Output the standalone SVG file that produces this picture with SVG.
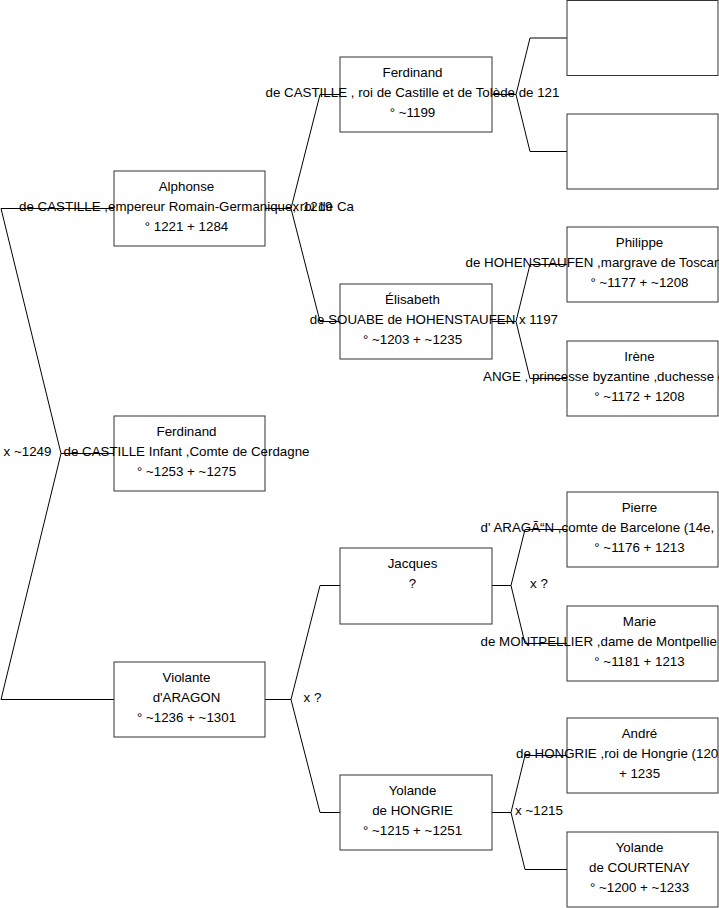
<svg xmlns="http://www.w3.org/2000/svg" width="719" height="908" viewBox="0 0 719 908">
<style>
.box{fill:#fff;stroke:#333;stroke-width:1}
.ln{fill:none;stroke:#000;stroke-width:1}
text{font-family:"Liberation Sans",Arial,sans-serif;font-size:13.33px;fill:#000}
.c1{text-anchor:middle}
.st{text-anchor:start}
</style>
<rect width="719" height="908" fill="#fff"/>
<g id="connectors">
<path class="ln" d="M114,208.5 H1 L61,453.5 L1,699.5 H114 M61,453.5 H114"/>
<path class="ln" d="M265,208.5 H291 L320,94.5 H340 M291,208.5 L320,321.5 H340"/>
<path class="ln" d="M265,699.5 H291 L320,585.5 H340 M291,699.5 L320,812.5 H340"/>
<path class="ln" d="M492,94.5 H516 L530,38 H567 M516,94.5 L530,151.5 H567"/>
<path class="ln" d="M492,321.5 H516 L530,264.5 H567 M516,321.5 L530,378.5 H567"/>
<path class="ln" d="M492,585.5 H511 L525,529.5 H567 M511,585.5 L525,643.5 H567"/>
<path class="ln" d="M492,812.5 H511 L525,755.5 H567 M511,812.5 L525,869.5 H567"/>
<text class="c1" x="27.5" y="456">x ~1249</text>
<text class="c1" x="312.5" y="211">x 1219</text>
<text class="c1" x="312.5" y="702">x ?</text>
<text class="c1" x="538.5" y="324">x 1197</text>
<text class="c1" x="539" y="588">x ?</text>
<text class="c1" x="539" y="815">x ~1215</text>
</g>
<g id="alphonse">
<rect class="box" x="114" y="171" width="151" height="75"/>
<text class="c1" x="186.5" y="191">Alphonse</text>
<text class="c1" x="186.5" y="211">de CASTILLE ,empereur Romain-Germanique, roi de Ca</text>
<text class="c1" x="186.5" y="231">° 1221 + 1284</text>
</g>
<g id="ferdinand-infant">
<rect class="box" x="114" y="416" width="151" height="75"/>
<text class="c1" x="186.5" y="436">Ferdinand</text>
<text class="c1" x="186.5" y="456">de CASTILLE Infant ,Comte de Cerdagne</text>
<text class="c1" x="186.5" y="476">° ~1253 + ~1275</text>
</g>
<g id="violante">
<rect class="box" x="114" y="662" width="151" height="75"/>
<text class="c1" x="186.5" y="682">Violante</text>
<text class="c1" x="186.5" y="702">d'ARAGON</text>
<text class="c1" x="186.5" y="722">° ~1236 + ~1301</text>
</g>
<g id="ferdinand-roi">
<rect class="box" x="340" y="57" width="152" height="75"/>
<text class="c1" x="412.5" y="77">Ferdinand</text>
<text class="c1" x="412.5" y="97">de CASTILLE , roi de Castille et de Tolède de 121</text>
<text class="c1" x="412.5" y="117">° ~1199</text>
</g>
<g id="elisabeth">
<rect class="box" x="340" y="284" width="152" height="75"/>
<text class="c1" x="412.5" y="304">Élisabeth</text>
<text class="c1" x="412.5" y="324">de SOUABE de HOHENSTAUFEN</text>
<text class="c1" x="412.5" y="344">° ~1203 + ~1235</text>
</g>
<g id="jacques">
<rect class="box" x="340" y="548" width="152" height="76"/>
<text class="c1" x="412.5" y="568">Jacques</text>
<text class="c1" x="412.5" y="588">?</text>
</g>
<g id="yolande-hongrie">
<rect class="box" x="340" y="775" width="152" height="75"/>
<text class="c1" x="412.5" y="795">Yolande</text>
<text class="c1" x="412.5" y="815">de HONGRIE</text>
<text class="c1" x="412.5" y="835">° ~1215 + ~1251</text>
</g>
<g id="unknown-1">
<rect class="box" x="567" y="0.5" width="151" height="75"/>
</g>
<g id="unknown-2">
<rect class="box" x="567" y="114" width="151" height="75"/>
</g>
<g id="philippe">
<rect class="box" x="567" y="227" width="151" height="75"/>
<text class="c1" x="639.5" y="247">Philippe</text>
<text class="st" x="465.5" y="267">de HOHENSTAUFEN ,margrave de Toscan</text>
<text class="c1" x="639.5" y="287">° ~1177 + ~1208</text>
</g>
<g id="irene">
<rect class="box" x="567" y="341" width="151" height="75"/>
<text class="c1" x="639.5" y="361">Irène</text>
<text class="st" x="483" y="381">ANGE , princesse byzantine ,duchesse d</text>
<text class="c1" x="639.5" y="401">° ~1172 + 1208</text>
</g>
<g id="pierre">
<rect class="box" x="567" y="492" width="151" height="75"/>
<text class="c1" x="639.5" y="512">Pierre</text>
<text class="st" x="480.5" y="532">d' ARAGÃ“N ,comte de Barcelone (14e,</text>
<text class="c1" x="639.5" y="552">° ~1176 + 1213</text>
</g>
<g id="marie">
<rect class="box" x="567" y="606" width="151" height="75"/>
<text class="c1" x="639.5" y="626">Marie</text>
<text class="st" x="480.5" y="646">de MONTPELLIER ,dame de Montpellie</text>
<text class="c1" x="639.5" y="666">° ~1181 + 1213</text>
</g>
<g id="andre">
<rect class="box" x="567" y="718" width="151" height="75"/>
<text class="c1" x="639.5" y="738">André</text>
<text class="st" x="516" y="758">de HONGRIE ,roi de Hongrie (120</text>
<text class="c1" x="639.5" y="778">+ 1235</text>
</g>
<g id="yolande-courtenay">
<rect class="box" x="567" y="832" width="151" height="75"/>
<text class="c1" x="639.5" y="852">Yolande</text>
<text class="c1" x="639.5" y="872">de COURTENAY</text>
<text class="c1" x="639.5" y="892">° ~1200 + ~1233</text>
</g>
</svg>
